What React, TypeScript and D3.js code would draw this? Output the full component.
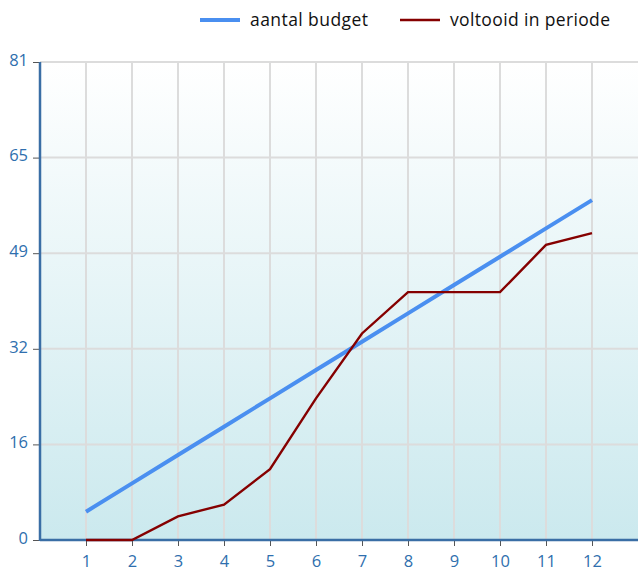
import React, { useEffect, useRef } from "react";
import * as d3 from "d3";

const periods = [1, 2, 3, 4, 5, 6, 7, 8, 9, 10, 11, 12];
const budget = [4.8, 9.6, 14.4, 19.2, 24, 28.8, 33.6, 38.4, 43.2, 48, 52.8, 57.6];
const completed = [0, 0, 4, 6, 12, 24, 35, 42, 42, 42, 50, 52];
const yTicks = [0, 16.2, 32.4, 48.6, 64.8, 81];
const yMax = 81;

const seriesNames = ["aantal budget", "voltooid in periode"];
const seriesColors = ["#4a8ff0", "#850000"];

const W = 638;
const H = 572;
const margin = { top: 62, right: 0, bottom: 32, left: 40 };

const App = () => {
  const ref = useRef<SVGSVGElement>(null);

  useEffect(() => {
    const svg = d3.select(ref.current);
    svg.selectAll("*").remove();
    const font = "'Open Sans', sans-serif";

    const x = d3.scaleLinear().domain([0, 13]).range([margin.left, W - margin.right]);
    const y = d3.scaleLinear().domain([0, yMax]).range([H - margin.bottom, margin.top]);

    const defs = svg.append("defs");
    const grad = defs
      .append("linearGradient")
      .attr("id", "bg")
      .attr("x1", 0)
      .attr("y1", 0)
      .attr("x2", 0)
      .attr("y2", 1);
    grad.append("stop").attr("offset", "0%").attr("stop-color", "#ffffff");
    grad.append("stop").attr("offset", "100%").attr("stop-color", "#cbe9ee");

    svg
      .append("rect")
      .attr("x", x(0))
      .attr("y", y(yMax))
      .attr("width", x(13) - x(0))
      .attr("height", y(0) - y(yMax))
      .attr("fill", "url(#bg)");

    // grid
    svg
      .append("g")
      .selectAll("line")
      .data(yTicks)
      .join("line")
      .attr("x1", x(0))
      .attr("x2", x(13))
      .attr("y1", (d) => y(d))
      .attr("y2", (d) => y(d))
      .attr("stroke", "#dcdcdc")
      .attr("stroke-width", 2);

    svg
      .append("g")
      .selectAll("line")
      .data(periods)
      .join("line")
      .attr("x1", (d) => x(d))
      .attr("x2", (d) => x(d))
      .attr("y1", y(yMax))
      .attr("y2", y(0))
      .attr("stroke", "#dcdcdc")
      .attr("stroke-width", 2);

    // y axis
    const yAxis = svg
      .append("g")
      .attr("transform", `translate(${x(0)},0)`)
      .call(
        d3
          .axisLeft(y)
          .tickValues(yTicks)
          .tickSize(7)
          .tickPadding(5)
          .tickFormat((d) => d3.format(".0f")(d as number))
      );
    yAxis.select(".domain").remove();
    yAxis.selectAll(".tick line").attr("stroke", "#555");
    yAxis
      .selectAll(".tick text")
      .attr("fill", "#2f6fae")
      .attr("dy", "0.2em")
      .style("font-family", font)
      .style("font-size", "16.5px");

    // x axis
    const xAxis = svg
      .append("g")
      .attr("transform", `translate(0,${y(0)})`)
      .call(d3.axisBottom(x).tickValues(periods).tickSize(6).tickPadding(9).tickFormat(d3.format("d")));
    xAxis.select(".domain").remove();
    xAxis.selectAll(".tick line").attr("stroke", "#555");
    xAxis
      .selectAll(".tick text")
      .attr("fill", "#2f6fae")
      .style("font-family", font)
      .style("font-size", "16.5px");

    svg
      .append("line")
      .attr("x1", x(0))
      .attr("x2", x(13))
      .attr("y1", y(0))
      .attr("y2", y(0))
      .attr("stroke", "#3a6ea5")
      .attr("stroke-width", 2.5);
    svg
      .append("line")
      .attr("x1", x(0))
      .attr("x2", x(0))
      .attr("y1", y(yMax))
      .attr("y2", y(0) + 1)
      .attr("stroke", "#3a6ea5")
      .attr("stroke-width", 2.5);

    // lines
    const line = d3
      .line<number>()
      .x((_, i) => x(periods[i]))
      .y((d) => y(d));

    svg
      .append("path")
      .datum(budget)
      .attr("d", line)
      .attr("fill", "none")
      .attr("stroke", seriesColors[0])
      .attr("stroke-width", 4);

    svg
      .append("path")
      .datum(completed)
      .attr("d", line)
      .attr("fill", "none")
      .attr("stroke", seriesColors[1])
      .attr("stroke-width", 2.4);

    // legend
    const legendX = [200, 400];
    const legend = svg
      .append("g")
      .selectAll("g")
      .data(seriesNames)
      .join("g")
      .attr("transform", (_, i) => `translate(${legendX[i]},20)`);
    legend
      .append("line")
      .attr("x1", 0)
      .attr("x2", 40)
      .attr("stroke", (_, i) => seriesColors[i])
      .attr("stroke-width", (_, i) => (i === 0 ? 4 : 2.5));
    legend
      .append("text")
      .attr("x", 50)
      .attr("dy", "0.35em")
      .attr("fill", "#111")
      .attr("textLength", (_, i) => (i === 0 ? 118 : 160))
      .style("font-family", font)
      .style("font-size", "17.5px")
      .text((d) => d);
  }, []);

  return <svg ref={ref} width={W} height={H} style={{ position: "absolute", left: 0, top: 0 }} />;
};

export default App;
